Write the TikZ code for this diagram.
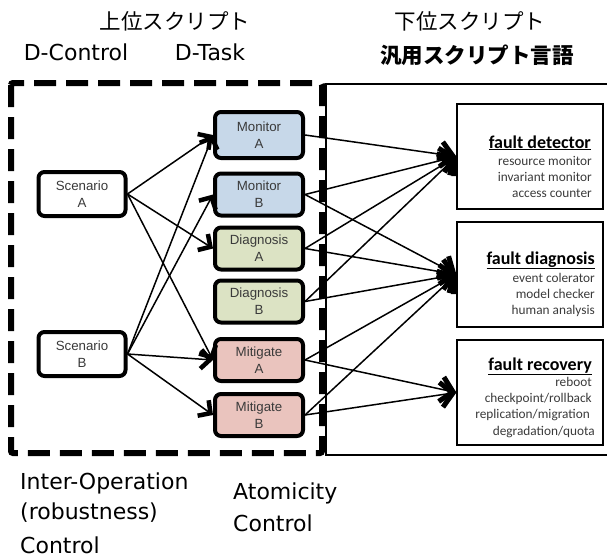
\documentclass[tikz,border=0pt]{standalone}
\usepackage{fontspec}
\setmainfont{Liberation Sans}
\newfontfamily\jpfont{Noto Sans CJK JP}
\newfontfamily\labfont{DejaVu Sans}
\newfontfamily\calfont{Carlito}
\usetikzlibrary{arrows.meta}
\definecolor{monc}{HTML}{C7D8E9}
\definecolor{diac}{HTML}{DCE3C4}
\definecolor{mitc}{HTML}{EAC4BE}
\definecolor{txtc}{HTML}{3A3A3A}
\tikzset{
  taskbox/.style={draw,line width=4pt,rounded corners=6pt,minimum width=88pt,minimum height=42pt,align=center,font=\fontsize{13.3}{17}\selectfont,text=txtc,inner sep=1pt},
  scenbox/.style={taskbox,fill=white,minimum width=87pt,minimum height=44pt},
  rbox/.style={draw,line width=1.2pt,minimum width=146pt,minimum height=105pt},
  sarr/.style={line width=1.5pt,-{Straight Barb[length=9pt,width=19pt,line width=4.5pt]}},
  rarr/.style={line width=1.5pt,-{Straight Barb[length=12pt,width=25pt,line width=5pt]}},
  jplab/.style={font=\jpfont\fontsize{21.5}{24}\selectfont,inner sep=0pt},
  latlab/.style={font=\labfont\fontsize{22}{24}\selectfont,inner sep=0pt},
  rtitle/.style={font=\calfont\bfseries\fontsize{18}{20}\selectfont,anchor=base east,inner sep=0pt},
  rline/.style={font=\calfont\fontsize{13.3}{15}\selectfont,text=txtc,anchor=base east,inner sep=0pt}
}
\begin{document}
\begin{tikzpicture}[x=1pt,y=-1pt]
\useasboundingbox (0,0) rectangle (607,557);
% headings
\node[jplab] (h1) at (175,21) {上位スクリプト};
\node[latlab] (h2) at (76,52) {D-Control};
\node[latlab] (h3) at (210,52) {D-Task};
\node[jplab] (h4) at (470,21) {下位スクリプト};
\node[jplab,font=\jpfont\bfseries\fontsize{21.5}{24}\selectfont] (h5) at (477,55) {汎用スクリプト言語};
% frames
\draw[line width=1.3pt] (608,84) -- (326,84) -- (326,455) -- (608,455);
\draw[line width=6pt,dash pattern=on 22pt off 10pt,rounded corners=2pt] (11,83) rectangle (322,453);
% right boxes
\node[rbox] (fd) at (530,156.5) {};
\node[rbox] (fg) at (530,274.5) {};
\node[rbox] (fr) at (530,392.5) {};
\node[rtitle] (fd0) at (591,148) {\underline{fault detector}};
\node[rline] (fd1) at (592,165) {resource monitor};
\node[rline] (fd2) at (592,181) {invariant monitor};
\node[rline] (fd3) at (592,197) {access counter};
\node[rtitle] (fg0) at (595,264) {\underline{fault diagnosis}};
\node[rline] (fg1) at (595,282) {event colerator};
\node[rline] (fg2) at (595,298) {model checker};
\node[rline] (fg3) at (595,314) {human analysis};
\node[rtitle] (fr0) at (592,370) {\underline{fault recovery}};
\node[rline] (fr1) at (592,386) {reboot};
\node[rline] (fr2) at (592,402) {checkpoint/rollback};
\node[rline] (fr3) at (590,418) {replication/migration};
\node[rline] (fr4) at (595,435) {degradation/quota};
% left boxes
\node[scenbox] (sa) at (82,194) {Scenario\\A};
\node[scenbox] (sb) at (82,354) {Scenario\\B};
\node[taskbox,fill=monc,minimum height=46pt] (ma) at (259,135) {Monitor\\A};
\node[taskbox,fill=monc] (mb) at (259,194.5) {Monitor\\B};
\node[taskbox,fill=diac] (da) at (259,248.5) {Diagnosis\\A};
\node[taskbox,fill=diac] (db) at (259,301.5) {Diagnosis\\B};
\node[taskbox,fill=mitc] (xa) at (259,360) {Mitigate\\A};
\node[taskbox,fill=mitc] (xb) at (259,415) {Mitigate\\B};
% scenario arrows
\draw[sarr] (sa.east) -- (ma.west);
\draw[sarr] (sa.east) -- (da.west);
\draw[sarr] (sa.east) -- (xa.west);
\draw[sarr] (sb.east) -- (ma.west);
\draw[sarr] (sb.east) -- (mb.west);
\draw[sarr] (sb.east) -- (xa.west);
\draw[sarr] (sb.east) -- (xb.west);
% task arrows
\draw[rarr] (ma.east) -- (fd.west);
\draw[rarr] (mb.east) -- (fd.west);
\draw[rarr] (mb.east) -- (fg.west);
\draw[rarr] (da.east) -- (fd.west);
\draw[rarr] (da.east) -- (fg.west);
\draw[rarr] (db.east) -- (fd.west);
\draw[rarr] (db.east) -- (fg.west);
\draw[rarr] (xa.east) -- (fg.west);
\draw[rarr] (xa.east) -- (fr.west);
\draw[rarr] (xb.east) -- (fg.west);
\draw[rarr] (xb.east) -- (fr.west);
% bottom labels
\node[latlab,anchor=west] (b1) at (20,483) {Inter-Operation};
\node[latlab,anchor=west] (b2) at (20,513) {(robustness)};
\node[latlab,anchor=west] (b3) at (20,545) {Control};
\node[latlab,anchor=west] (b4) at (233,493) {Atomicity};
\node[latlab,anchor=west] (b5) at (233,523) {Control};
\end{tikzpicture}
\end{document}
